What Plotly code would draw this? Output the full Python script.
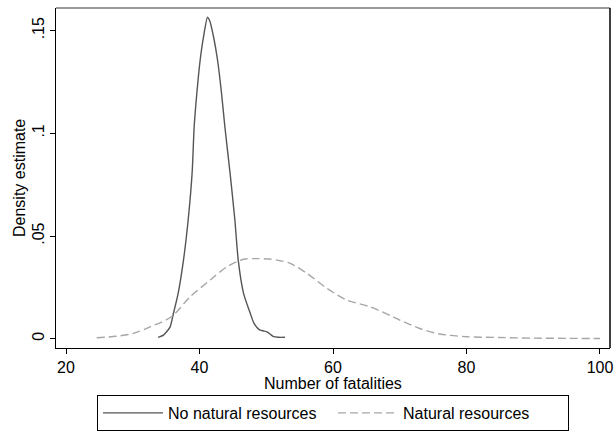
import plotly.graph_objects as go

# No natural resources (solid)
x_none = [33.8, 34.6, 35.1, 35.6, 36.1, 36.8, 37.6, 38.3, 38.9, 39.2, 39.6, 40.1, 40.6,
          41.2, 41.5, 42.1, 42.7, 43.3, 43.8, 44.6, 45.3, 45.8, 46.6, 47.6, 48.1,
          48.6, 49.1, 49.6, 50.1, 50.6, 51.1, 51.8, 52.8]
y_none = [0.0007, 0.0018, 0.0035, 0.0058, 0.0124, 0.0221, 0.0383, 0.0578, 0.0810, 0.1032,
          0.1195, 0.1357, 0.147, 0.1565, 0.155, 0.147, 0.1357, 0.1195, 0.1032, 0.0800,
          0.0578, 0.0383, 0.0221, 0.0124, 0.0080, 0.0055, 0.0042, 0.0038, 0.0034, 0.0022,
          0.0010, 0.0007, 0.0007]

# Natural resources (dashed)
x_nat = [24.6, 27.5, 30.1, 32.6, 35.8, 38.6, 41.6, 44.1, 46.6, 48.6, 50.5, 52.1, 53.6,
         56.1, 59.1, 62.1, 65.5, 69.0, 70.0, 73.0, 76.0, 80.0, 85.0, 90.0, 95.0, 100.0]
y_nat = [0.0005, 0.0012, 0.0026, 0.0058, 0.0107, 0.0204, 0.0286, 0.0350, 0.0387, 0.0390,
         0.0388, 0.0380, 0.0367, 0.0318, 0.0245, 0.0188, 0.0156, 0.0107, 0.0091, 0.0050,
         0.0023, 0.0010, 0.0006, 0.0003, 0.0002, 0.0001]

x_ticks = [20, 40, 60, 80, 100]
y_ticks = [0, 0.05, 0.1, 0.15]
y_tick_labels = ["0", ".05", ".1", ".15"]

font = "Liberation Sans, Arial, sans-serif"

fig = go.Figure()
fig.add_trace(go.Scatter(x=x_none, y=y_none, mode="lines", name="No natural resources",
                         line=dict(color="#555555", width=1.4, shape="spline", smoothing=0.6)))
fig.add_trace(go.Scatter(x=x_nat, y=y_nat, mode="lines", name="Natural resources",
                         line=dict(color="#a6a6a6", width=1.4, dash="8px,4px",
                                   shape="spline", smoothing=0.8)))

fig.update_layout(
    width=616, height=434,
    margin=dict(l=56, r=6, t=8, b=86, autoexpand=False),
    paper_bgcolor="white", plot_bgcolor="white",
    font=dict(family=font, size=16, color="black"),
    showlegend=True,
    legend=dict(orientation="h", x=0.5, xanchor="center", y=-0.244, yanchor="bottom",
                bordercolor="black", borderwidth=1, font=dict(size=16),
                entrywidth=160, itemwidth=60, tracegroupgap=0),
    xaxis=dict(range=[18.5, 101.5], tickvals=x_ticks, ticks="outside", ticklen=5,
               tickcolor="black", showline=True, linecolor="black", linewidth=1,
               mirror=False, showgrid=False, zeroline=False, automargin=False,
               tickfont=dict(size=16)),
    yaxis=dict(range=[-0.0045, 0.161], tickvals=y_ticks, ticktext=y_tick_labels,
               ticks="outside", ticklen=5, tickcolor="black", tickangle=-90,
               showline=True, linecolor="black", linewidth=1, mirror=False,
               showgrid=False, zeroline=False, automargin=False,
               tickfont=dict(size=16)),
    shapes=[
        dict(type="line", xref="paper", yref="paper", x0=0, x1=1, y0=1, y1=1,
             line=dict(color="#777777", width=1.5)),
        dict(type="line", xref="paper", yref="paper", x0=1, x1=1, y0=0, y1=1,
             line=dict(color="black", width=1.5)),
    ],
    annotations=[
        dict(text="Number of fatalities", xref="paper", yref="paper", x=0.5, y=0,
             xanchor="center", yanchor="middle", yshift=-35, showarrow=False,
             font=dict(size=16)),
        dict(text="Density estimate", xref="paper", yref="paper", x=0, y=0.5,
             xanchor="center", yanchor="middle", xshift=-37, textangle=-90,
             showarrow=False, font=dict(size=16)),
    ],
)

fig.write_html("out.html", config={"displayModeBar": False},
               post_script="document.body.style.margin='0';document.body.style.overflow='hidden';")
